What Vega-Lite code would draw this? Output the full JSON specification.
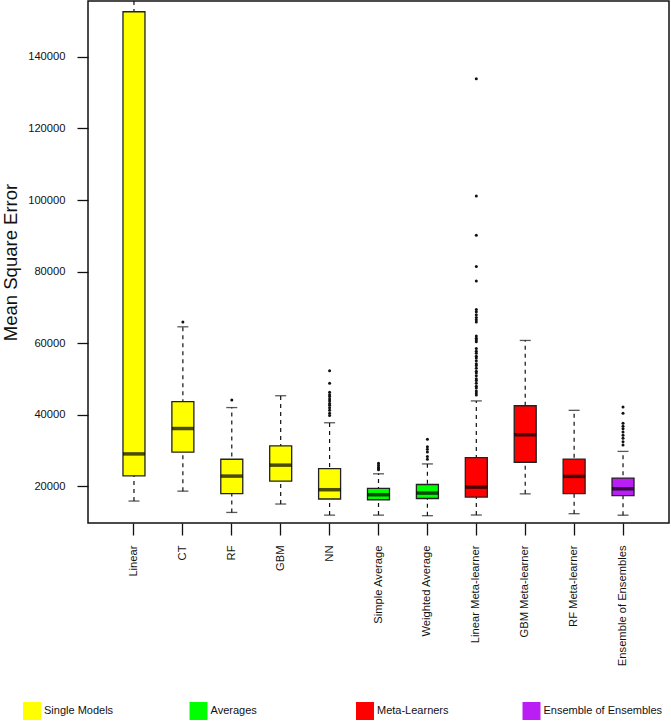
{
  "$schema": "https://vega.github.io/schema/vega-lite/v6.json",
  "autosize": "none",
  "width": 581,
  "height": 522,
  "padding": {"left": 88, "top": 1, "right": 2, "bottom": 203},
  "background": "white",
  "config": {
    "font": "Liberation Sans",
    "view": {"stroke": "#111", "strokeWidth": 1.5},
    "axis": {"domain": false, "grid": false, "tickColor": "#111", "tickWidth": 1.3, "labelColor": "#111", "labelFont": "Liberation Sans", "titleFont": "Liberation Sans", "titleColor": "#111"}
  },
  "datasets": {
    "stats": [
      {"model": "Linear", "group": "Single Models", "lower": 15930, "q1": 22980, "median": 29100, "q3": 152600, "upper": 158000},
      {"model": "CT", "group": "Single Models", "lower": 18700, "q1": 29570, "median": 36190, "q3": 43680, "upper": 64600},
      {"model": "RF", "group": "Single Models", "lower": 12750, "q1": 18000, "median": 22900, "q3": 27600, "upper": 42040},
      {"model": "GBM", "group": "Single Models", "lower": 15100, "q1": 21500, "median": 25960, "q3": 31340, "upper": 45350},
      {"model": "NN", "group": "Single Models", "lower": 12000, "q1": 16500, "median": 19100, "q3": 25000, "upper": 37800},
      {"model": "Simple Average", "group": "Averages", "lower": 12000, "q1": 16300, "median": 17700, "q3": 19450, "upper": 23540},
      {"model": "Weighted Average", "group": "Averages", "lower": 11840, "q1": 16650, "median": 18160, "q3": 20560, "upper": 26300},
      {"model": "Linear Meta-learner", "group": "Meta-Learners", "lower": 12030, "q1": 17050, "median": 19830, "q3": 28050, "upper": 43900},
      {"model": "GBM Meta-learner", "group": "Meta-Learners", "lower": 17940, "q1": 26770, "median": 34450, "q3": 42550, "upper": 60790},
      {"model": "RF Meta-learner", "group": "Meta-Learners", "lower": 12400, "q1": 18020, "median": 22810, "q3": 27650, "upper": 41270},
      {"model": "Ensemble of Ensembles", "group": "Ensemble of Ensembles", "lower": 11980, "q1": 17440, "median": 19360, "q3": 22340, "upper": 29800}
    ],
    "outliers": [
      {"model": "CT", "value": 65970},
      {"model": "RF", "value": 44150},
      {"model": "NN", "value": 52320},
      {"model": "NN", "value": 48800},
      {"model": "NN", "value": 46300},
      {"model": "NN", "value": 45600},
      {"model": "NN", "value": 45100},
      {"model": "NN", "value": 44400},
      {"model": "NN", "value": 43900},
      {"model": "NN", "value": 43200},
      {"model": "NN", "value": 42700},
      {"model": "NN", "value": 42000},
      {"model": "NN", "value": 41300},
      {"model": "NN", "value": 40450},
      {"model": "NN", "value": 39800},
      {"model": "Simple Average", "value": 26500},
      {"model": "Simple Average", "value": 25900},
      {"model": "Simple Average", "value": 25400},
      {"model": "Simple Average", "value": 25000},
      {"model": "Simple Average", "value": 24650},
      {"model": "Weighted Average", "value": 33200},
      {"model": "Weighted Average", "value": 31100},
      {"model": "Weighted Average", "value": 30400},
      {"model": "Weighted Average", "value": 29600},
      {"model": "Weighted Average", "value": 28400},
      {"model": "Weighted Average", "value": 27600},
      {"model": "Linear Meta-learner", "value": 133900},
      {"model": "Linear Meta-learner", "value": 101100},
      {"model": "Linear Meta-learner", "value": 90180},
      {"model": "Linear Meta-learner", "value": 81450},
      {"model": "Linear Meta-learner", "value": 77390},
      {"model": "Linear Meta-learner", "value": 69420},
      {"model": "Linear Meta-learner", "value": 68800},
      {"model": "Linear Meta-learner", "value": 68000},
      {"model": "Linear Meta-learner", "value": 67200},
      {"model": "Linear Meta-learner", "value": 66600},
      {"model": "Linear Meta-learner", "value": 65970},
      {"model": "Linear Meta-learner", "value": 62000},
      {"model": "Linear Meta-learner", "value": 61400},
      {"model": "Linear Meta-learner", "value": 60900},
      {"model": "Linear Meta-learner", "value": 60400},
      {"model": "Linear Meta-learner", "value": 58560},
      {"model": "Linear Meta-learner", "value": 57800},
      {"model": "Linear Meta-learner", "value": 57200},
      {"model": "Linear Meta-learner", "value": 56400},
      {"model": "Linear Meta-learner", "value": 55900},
      {"model": "Linear Meta-learner", "value": 55100},
      {"model": "Linear Meta-learner", "value": 54300},
      {"model": "Linear Meta-learner", "value": 53800},
      {"model": "Linear Meta-learner", "value": 53000},
      {"model": "Linear Meta-learner", "value": 52200},
      {"model": "Linear Meta-learner", "value": 51700},
      {"model": "Linear Meta-learner", "value": 50900},
      {"model": "Linear Meta-learner", "value": 50100},
      {"model": "Linear Meta-learner", "value": 49600},
      {"model": "Linear Meta-learner", "value": 48800},
      {"model": "Linear Meta-learner", "value": 48000},
      {"model": "Linear Meta-learner", "value": 47500},
      {"model": "Linear Meta-learner", "value": 46700},
      {"model": "Linear Meta-learner", "value": 46100},
      {"model": "Linear Meta-learner", "value": 45550},
      {"model": "Ensemble of Ensembles", "value": 42200},
      {"model": "Ensemble of Ensembles", "value": 40450},
      {"model": "Ensemble of Ensembles", "value": 37660},
      {"model": "Ensemble of Ensembles", "value": 36800},
      {"model": "Ensemble of Ensembles", "value": 36100},
      {"model": "Ensemble of Ensembles", "value": 35200},
      {"model": "Ensemble of Ensembles", "value": 34300},
      {"model": "Ensemble of Ensembles", "value": 33500},
      {"model": "Ensemble of Ensembles", "value": 32500},
      {"model": "Ensemble of Ensembles", "value": 31620}
    ]
  },
  "encoding": {
    "x": {
      "field": "model", "type": "nominal",
      "scale": {"domain": ["Linear", "CT", "RF", "GBM", "NN", "Simple Average", "Weighted Average", "Linear Meta-learner", "GBM Meta-learner", "RF Meta-learner", "Ensemble of Ensembles"], "paddingInner": 0, "paddingOuter": 0.44},
      "axis": {"title": null, "labelAngle": -90, "tickSize": 12, "labelPadding": 10, "labelFontSize": 11.2}
    }
  },
  "layer": [
    {
      "data": {"name": "stats"},
      "mark": {"type": "rule", "strokeDash": [4, 4], "color": "#111", "strokeWidth": 1.2, "clip": true},
      "encoding": {
        "y": {"field": "lower", "type": "quantitative", "scale": {"domain": [9800, 155600], "nice": false, "zero": false},
          "axis": {"title": "Mean Square Error", "titleFontSize": 18.5, "titleFontWeight": "normal", "titlePadding": 7, "values": [20000, 40000, 60000, 80000, 100000, 120000, 140000], "format": "d", "tickSize": 11, "labelPadding": 12, "labelFontSize": 11.2}},
        "y2": {"field": "upper"}
      }
    },
    {
      "data": {"name": "stats"},
      "mark": {"type": "tick", "size": 11, "thickness": 1.3, "color": "#111", "clip": true},
      "encoding": {"y": {"field": "lower", "type": "quantitative"}}
    },
    {
      "data": {"name": "stats"},
      "mark": {"type": "tick", "size": 11, "thickness": 1.3, "color": "#111", "clip": true},
      "encoding": {"y": {"field": "upper", "type": "quantitative"}}
    },
    {
      "data": {"name": "stats"},
      "mark": {"type": "bar", "width": 22, "stroke": "#222", "strokeWidth": 1.3, "opacity": 1},
      "encoding": {
        "y": {"field": "q1", "type": "quantitative"},
        "y2": {"field": "q3"},
        "fill": {"field": "group", "type": "nominal",
          "scale": {"domain": ["Single Models", "Averages", "Meta-Learners", "Ensemble of Ensembles"], "range": ["#FFFF00", "#00FF00", "#FF0000", "#BA1EF5"]},
          "legend": {"title": null, "orient": "none", "legendX": -65, "legendY": 701, "direction": "horizontal", "columns": 4, "gridAlign": "all", "columnPadding": 26.5, "symbolType": "square", "symbolSize": 324, "symbolStrokeWidth": 0, "symbolOpacity": 1, "labelFontSize": 11, "labelOffset": 3, "labelColor": "#111", "labelFont": "Liberation Sans", "padding": 0}
        }
      }
    },
    {
      "data": {"name": "stats"},
      "mark": {"type": "tick", "size": 22, "thickness": 3.5, "color": "#000"},
      "encoding": {"y": {"field": "median", "type": "quantitative"}}
    },
    {
      "data": {"name": "outliers"},
      "mark": {"type": "circle", "size": 9, "color": "#111", "opacity": 1},
      "encoding": {"y": {"field": "value", "type": "quantitative"}}
    }
  ]
}
